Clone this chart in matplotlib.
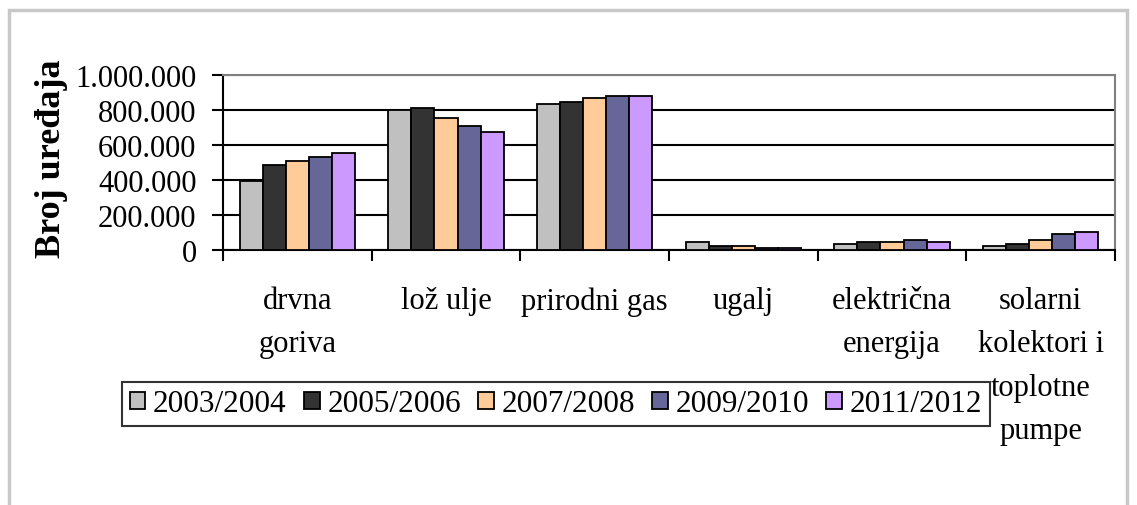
import matplotlib.pyplot as plt
import numpy as np
from matplotlib.patches import Rectangle
from matplotlib.ticker import FuncFormatter, MultipleLocator

plt.rcParams['font.family'] = ['Liberation Serif', 'DejaVu Serif']

# broj uređaja po energentu i sezoni
kategorije = ['drvna\ngoriva', 'lož ulje', 'prirodni gas', 'ugalj',
              'električna\nenergija', 'solarni\nkolektori i\ntoplotne\npumpe']
sezone = ['2003/2004', '2005/2006', '2007/2008', '2009/2010', '2011/2012']

s2003 = [395000, 799000, 835000, 46000, 34000, 23000]
s2005 = [487000, 812000, 847000, 23000, 46000, 36000]
s2007 = [510000, 753000, 870000, 21000, 46000, 56000]
s2009 = [530000, 707000, 881000, 11000, 57000, 94000]
s2011 = [553000, 672000, 881000, 10000, 46000, 103000]

boje = ['#C0C0C0', '#333333', '#FFCC99', '#666699', '#CC99FF']

fig = plt.figure(figsize=(11.37, 5.06), dpi=100)
ax = fig.add_axes([223 / 1137, 1 - 251 / 506, 892 / 1137, 175 / 506])

# okvir oko cijelog grafikona
fig.patches.append(Rectangle((9 / 1137, -0.1), 1118 / 1137, 1.1 - 11 / 506,
                             transform=fig.transFigure, fill=False,
                             edgecolor='#c8c8c8', linewidth=2.5, zorder=0))

x = np.arange(len(kategorije))
w = 0.155
for k, (vals, boja, lab) in enumerate(zip([s2003, s2005, s2007, s2009, s2011], boje, sezone)):
    ax.bar(x + (k - 2) * w, vals, w, color=boja, edgecolor='black',
           linewidth=1.3, label=lab, zorder=3)

ax.set_xlim(-0.5, len(kategorije) - 0.5)
ax.set_ylim(0, 1000000)
ax.yaxis.set_major_locator(MultipleLocator(200000))
ax.yaxis.set_major_formatter(FuncFormatter(lambda v, p: format(int(v), ',').replace(',', '.')))
ax.grid(axis='y', color='black', linewidth=1.5, zorder=0)

ax.set_xticks(x)
ax.set_xticklabels(kategorije, fontsize=22, linespacing=1.65, va='top')
ax.set_xticks(np.arange(-0.5, len(kategorije)), minor=True)
ax.tick_params(axis='x', which='major', length=0, pad=26)
ax.tick_params(axis='x', which='minor', length=8, width=1.5, direction='out')
ax.tick_params(axis='y', length=8, width=1.5, direction='out', pad=11, labelsize=22)

for s in ['left', 'bottom']:
    ax.spines[s].set_linewidth(1.5)
    ax.spines[s].set_color('black')
for s in ['top', 'right']:
    ax.spines[s].set_linewidth(1.5)
    ax.spines[s].set_color('#808080')

fig.text(52 / 1137, 1 - 159 / 506, 'Broj uređaja', rotation=90, fontsize=26,
         fontweight='bold', ha='center', va='center')

leg = fig.legend(loc='center', bbox_to_anchor=(556 / 1137, 1 - 405 / 506), ncol=5,
                 fontsize=22.5, frameon=True, fancybox=False, edgecolor='black',
                 handlelength=0.5, handleheight=0.5, handletextpad=0.25,
                 columnspacing=0.55, borderpad=0.25, borderaxespad=0)
leg.get_frame().set_linewidth(1.5)

plt.savefig('out.png', dpi=100)
